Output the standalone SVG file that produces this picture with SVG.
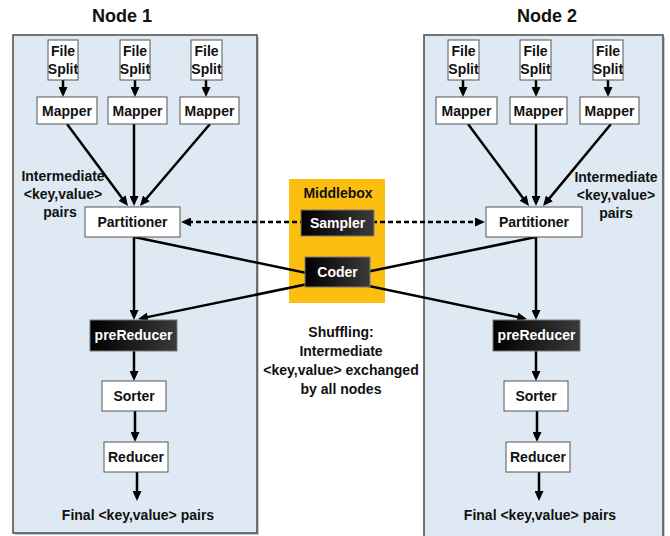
<svg xmlns="http://www.w3.org/2000/svg" width="670" height="536" viewBox="0 0 670 536">
  <defs>
    <linearGradient id="dark" x1="0" y1="0" x2="1" y2="0">
      <stop offset="0" stop-color="#000"/>
      <stop offset="1" stop-color="#3a3a3a"/>
    </linearGradient>
    <marker id="arrow" markerUnits="userSpaceOnUse" markerWidth="10" markerHeight="9" refX="3" refY="4.5" orient="auto-start-reverse">
      <path d="M0,0 L10,4.5 L0,9 z" fill="#000"/>
    </marker>
  </defs>
  <style>
    text { font-family: "Liberation Sans", Arial, sans-serif; font-weight: bold; font-size: 14px; fill: #111; text-anchor: middle; }
    .title { font-size: 18px; }
    .inv { fill: #fff; }
    .panel { fill: #dfe9f3; stroke: #4a4a4a; stroke-width: 1.5; }
    .shadow { fill: #c9c9c9; }
    .box { fill: #fff; stroke: #555; stroke-width: 1; }
    .dbox { fill: url(#dark); stroke: #7a7a7a; stroke-width: 1; }
    .mbox { fill: #fcbf10; }
    .conn line { stroke: #000; stroke-width: 2.5; marker-end: url(#arrow); }
    .conn .dash { stroke-dasharray: 5 3; marker-start: url(#arrow); }
  </style>

  <!-- cluster panels -->
  <g id="node1">
    <rect class="shadow" x="15" y="37" width="244" height="498"/>
    <rect class="panel" x="13" y="35" width="244" height="498"/>
    <text class="title" x="122" y="22">Node 1</text>
  </g>
  <g id="node2">
    <rect class="shadow" x="426" y="37" width="239" height="510"/>
    <rect class="panel" x="424" y="35" width="239" height="510"/>
    <text class="title" x="547" y="22">Node 2</text>
  </g>
  <g id="middlebox">
    <rect class="mbox" x="289" y="179" width="96" height="124"/>
    <text x="338" y="198">Middlebox</text>
  </g>

  <!-- connectors -->
  <g class="conn">
    <line x1="63" y1="80" x2="63" y2="90"/>
    <line x1="135" y1="80" x2="135" y2="90"/>
    <line x1="206" y1="80" x2="206" y2="90"/>
    <line x1="463" y1="80" x2="463" y2="90"/>
    <line x1="536" y1="80" x2="536" y2="90"/>
    <line x1="608" y1="80" x2="608" y2="90"/>

    <line x1="67" y1="124" x2="123.8" y2="200.4"/>
    <line x1="134" y1="124" x2="134" y2="199"/>
    <line x1="210" y1="124" x2="144.5" y2="200.7"/>
    <line x1="468" y1="124" x2="524.8" y2="200.4"/>
    <line x1="536" y1="124" x2="536" y2="199"/>
    <line x1="611" y1="124" x2="547.5" y2="200.6"/>

    <line class="dash" x1="188" y1="222" x2="478" y2="222"/>

    <line x1="134" y1="237" x2="520.1" y2="317.6"/>
    <line x1="536" y1="237" x2="144.9" y2="317.6"/>

    <line x1="134" y1="237" x2="134" y2="313"/>
    <line x1="536" y1="237" x2="536" y2="313"/>
    <line x1="134" y1="351" x2="134" y2="374"/>
    <line x1="536" y1="351" x2="536" y2="374"/>
    <line x1="135" y1="411" x2="135" y2="435"/>
    <line x1="537" y1="411" x2="537" y2="435"/>
    <line x1="137" y1="472" x2="137" y2="494"/>
    <line x1="539" y1="472" x2="539" y2="494"/>
  </g>

  <!-- node 1 stages -->
  <g id="split1a"><rect class="box" x="48" y="40" width="30" height="40"/><text x="63" y="56">File</text><text x="63" y="74">Split</text></g>
  <g id="split1b"><rect class="box" x="120" y="40" width="30" height="40"/><text x="135" y="56">File</text><text x="135" y="74">Split</text></g>
  <g id="split1c"><rect class="box" x="191" y="40" width="31" height="40"/><text x="206.5" y="56">File</text><text x="206.5" y="74">Split</text></g>
  <g id="mapper1a"><rect class="box" x="37" y="97" width="60" height="27"/><text x="67" y="116">Mapper</text></g>
  <g id="mapper1b"><rect class="box" x="108" y="97" width="59" height="27"/><text x="137.5" y="116">Mapper</text></g>
  <g id="mapper1c"><rect class="box" x="180" y="97" width="59" height="27"/><text x="209.5" y="116">Mapper</text></g>
  <g id="label1">
    <text x="63" y="181">Intermediate</text>
    <text x="63" y="199">&lt;key,value&gt;</text>
    <text x="60" y="217">pairs</text>
  </g>
  <g id="partitioner1"><rect class="box" x="85" y="207" width="95" height="30"/><text x="132.5" y="227">Partitioner</text></g>
  <g id="prereducer1"><rect class="dbox" x="90" y="320" width="87" height="31"/><text class="inv" x="133.5" y="340">preReducer</text></g>
  <g id="sorter1"><rect class="box" x="102" y="381" width="64" height="30"/><text x="134" y="401">Sorter</text></g>
  <g id="reducer1"><rect class="box" x="104" y="442" width="64" height="30"/><text x="136" y="462">Reducer</text></g>
  <g id="final1"><text x="138" y="520">Final &lt;key,value&gt; pairs</text></g>

  <!-- node 2 stages -->
  <g id="split2a"><rect class="box" x="448" y="40" width="31" height="40"/><text x="463.5" y="56">File</text><text x="463.5" y="74">Split</text></g>
  <g id="split2b"><rect class="box" x="520" y="40" width="31" height="40"/><text x="535.5" y="56">File</text><text x="535.5" y="74">Split</text></g>
  <g id="split2c"><rect class="box" x="593" y="40" width="30" height="40"/><text x="608" y="56">File</text><text x="608" y="74">Split</text></g>
  <g id="mapper2a"><rect class="box" x="436" y="97" width="61" height="27"/><text x="466.5" y="116">Mapper</text></g>
  <g id="mapper2b"><rect class="box" x="510" y="97" width="57" height="27"/><text x="538.5" y="116">Mapper</text></g>
  <g id="mapper2c"><rect class="box" x="580" y="97" width="59" height="27"/><text x="609.5" y="116">Mapper</text></g>
  <g id="label2">
    <text x="616" y="182">Intermediate</text>
    <text x="616" y="200">&lt;key,value&gt;</text>
    <text x="616" y="218">pairs</text>
  </g>
  <g id="partitioner2"><rect class="box" x="486" y="207" width="96" height="30"/><text x="534" y="227">Partitioner</text></g>
  <g id="prereducer2"><rect class="dbox" x="493" y="320" width="87" height="31"/><text class="inv" x="536.5" y="340">preReducer</text></g>
  <g id="sorter2"><rect class="box" x="504" y="381" width="64" height="30"/><text x="536" y="401">Sorter</text></g>
  <g id="reducer2"><rect class="box" x="506" y="442" width="64" height="30"/><text x="538" y="462">Reducer</text></g>
  <g id="final2"><text x="540" y="520">Final &lt;key,value&gt; pairs</text></g>

  <!-- middlebox stages -->
  <g id="sampler"><rect class="dbox" x="301" y="210" width="73" height="26"/><text class="inv" x="337.5" y="228">Sampler</text></g>
  <g id="coder"><rect class="dbox" x="305" y="257" width="65" height="30"/><text class="inv" x="337.5" y="277">Coder</text></g>

  <g id="shuffling">
    <text x="341" y="337">Shuffling:</text>
    <text x="341" y="356">Intermediate</text>
    <text x="341" y="375">&lt;key,value&gt; exchanged</text>
    <text x="341" y="394">by all nodes</text>
  </g>
</svg>
